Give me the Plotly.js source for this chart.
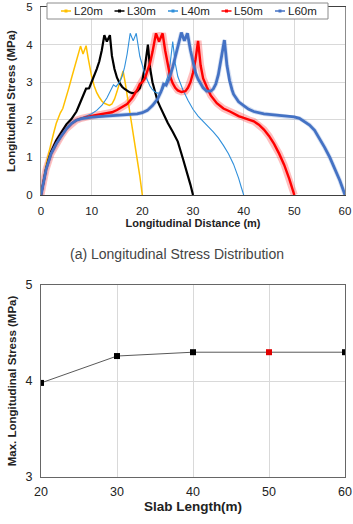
<!DOCTYPE html>
<html>
<head>
<meta charset="utf-8">
<script src="https://cdn.plot.ly/plotly-3.0.1.min.js"></script>
<style>html,body{margin:0;padding:0;background:#fff;}#chart{width:353px;height:524px;}</style>
</head>
<body>
<div id="chart"></div>
<script>
// ---- Top chart: longitudinal stress distribution ----
const seriesNames = ["L20m", "L30m", "L40m", "L50m", "L60m"];

const x20 = [0,0.5,1,1.5,2,2.5,3,3.5,3.8,4.3,5,5.5,6,6.5,7,7.5,7.8,8.3,8.9,9.3,9.7,10,10.5,11,11.5,12,12.5,13,13.5,14,14.5,15,15.5,16,16.2,16.6,17,17.5,18,18.5,19,19.5,20];
const y20 = [0,0.45,0.8,1.1,1.4,1.65,1.9,2.1,2.18,2.3,2.6,2.85,3.1,3.35,3.6,3.85,3.96,3.75,3.97,3.65,3.35,3.15,2.9,2.72,2.6,2.5,2.44,2.4,2.38,2.42,2.55,2.75,3.0,3.22,3.3,3.0,2.65,2.3,1.9,1.45,0.98,0.5,0];

const x30 = [0,0.5,1,1.5,2,3,4,5,6,7,7.5,8,8.5,8.9,9.5,10,10.5,11,11.5,12,12.5,13,13.6,14,14.5,15,15.5,16,16.5,17,17.5,18,18.5,19,19.5,20,20.5,21.1,21.5,22,22.5,23,23.5,24,25,26,27,28,28.5,29,29.5,30];
const y30 = [0,0.38,0.7,0.95,1.15,1.45,1.68,1.88,2.02,2.22,2.38,2.55,2.72,2.83,2.84,3.0,3.15,3.35,3.55,3.85,4.25,4.08,4.25,3.7,3.35,3.12,2.98,2.88,2.82,2.77,2.73,2.71,2.72,2.76,2.84,3.05,3.4,4.0,3.4,3.0,2.75,2.5,2.35,2.2,1.92,1.68,1.42,0.97,0.75,0.52,0.27,0];

const x40 = [0,1,2,3,4,5,6,7,8,9,10,11,12,13,13.8,14.3,14.8,15.5,16,16.5,17,17.6,18.2,18.8,19.5,20,20.5,21,21.5,22,22.5,23,23.5,24,24.5,25,25.5,26,26.5,27,27.5,28,29,30,31,32,33,34,35,36,37,38,38.5,39,39.5,40];
const y40 = [0,0.68,1.1,1.36,1.57,1.76,1.9,1.99,2.05,2.1,2.16,2.25,2.38,2.58,2.8,2.93,2.88,3.0,3.15,3.4,3.75,4.3,4.1,4.3,3.69,3.45,3.22,3.05,2.9,2.8,2.74,2.71,2.72,2.8,2.95,3.15,3.5,4.08,3.5,3.15,2.95,2.8,2.52,2.28,2.1,1.95,1.82,1.68,1.52,1.32,1.1,0.82,0.65,0.45,0.22,0];

const x50 = [0,1,2,3,4,5,6,7,8,9,10,11,12,13,14,15,16,17,18,19,19.5,20,20.5,21,21.5,22,22.7,23.3,24,24.5,25,25.5,26,26.5,27,27.7,28.5,29,29.5,30,30.5,31,31.5,32,32.7,33.5,34.7,36,37.3,38,39,40,41,42,43,44,45,46,47,48,49,50];
const y50 = [0,0.68,1.1,1.36,1.57,1.76,1.9,1.99,2.04,2.08,2.1,2.13,2.15,2.17,2.2,2.26,2.33,2.42,2.58,2.8,2.95,3.0,3.1,3.28,3.5,3.8,4.3,4.08,4.3,3.85,3.45,3.15,2.97,2.85,2.78,2.74,2.76,2.85,3.0,3.25,3.6,4.1,3.45,3.1,2.88,2.65,2.44,2.3,2.22,2.17,2.1,2.05,2.0,1.96,1.87,1.74,1.57,1.36,1.1,0.8,0.43,0];

const x60 = [0,1,2,3,4,5,6,7,8,9,10,12,14,16,18,19,20,21,22,23,23.7,24.2,24.7,25.3,26,26.5,27,27.7,28.3,28.9,29.5,30,30.5,31,31.5,32,32.7,33.5,34,34.5,35,35.5,36.2,36.7,37.2,37.7,38,39,40,41,42,44,46,48,50,51,52,53,54,55,56,57,58,59,60];
const y60 = [0,0.68,1.1,1.36,1.57,1.76,1.9,1.99,2.03,2.06,2.07,2.09,2.11,2.12,2.14,2.16,2.19,2.25,2.38,2.55,2.75,2.95,2.92,3.1,3.4,3.65,3.95,4.32,4.1,4.3,3.85,3.5,3.25,3.08,2.95,2.85,2.76,2.76,2.82,2.95,3.2,3.55,4.12,3.45,3.05,2.8,2.68,2.48,2.37,2.28,2.22,2.16,2.13,2.11,2.08,2.04,1.96,1.86,1.72,1.5,1.26,1.0,0.7,0.38,0];

// ---- Bottom chart: max stress vs slab length ----
const slabLength = [20, 30, 40, 50, 60];
const maxStress = [3.98, 4.26, 4.30, 4.30, 4.30];

// ---- styling ----
const xs = [x20, x30, x40, x50, x60];
const ys = [y20, y30, y40, y50, y60];
const colors = ["#FFC000", "#000000", "#2F8FDB", "#FF0000", "#4472C4"];
const lineW = [1.5, 2.2, 1.1, 2.4, 2.8];
const glow = [null, null, null, "rgba(255,70,70,0.35)", "rgba(68,114,196,0.22)"];
const glowW = [0, 0, 0, 7, 4.5];

const W = 353, H = 524, M = {l: 41, r: 8, t: 7, b: 47};
const pw = W - M.l - M.r, ph = H - M.t - M.b;
const px2x = p => (p - M.l) / pw;
const py2y = p => (H - M.b - p) / ph;

const traces = [];
for (let i = 0; i < 5; i++) {
  if (glow[i]) {
    traces.push({
      x: xs[i], y: ys[i], xaxis: "x", yaxis: "y", mode: "lines",
      line: {color: glow[i], width: glowW[i]}, showlegend: false, hoverinfo: "skip"
    });
  }
}
for (let i = 0; i < 5; i++) {
  traces.push({
    x: xs[i], y: ys[i], xaxis: "x", yaxis: "y", name: seriesNames[i],
    mode: "lines", line: {color: colors[i], width: lineW[i]}, showlegend: false
  });
}
traces.push({
  x: slabLength, y: maxStress, xaxis: "x2", yaxis: "y2", mode: "lines+markers",
  line: {color: "#595959", width: 1},
  marker: {symbol: "square", size: 6, color: ["#000","#000","#000","#E00000","#000"]},
  showlegend: false
});

// ---- legend (drawn as layout decoration) ----
const fontFam = "Liberation Sans, Arial, sans-serif";
const shapes = [{
  type: "rect", xref: "paper", yref: "paper",
  x0: px2x(47), x1: px2x(328), y0: py2y(19), y1: py2y(3),
  line: {color: "#8C8C8C", width: 1}, fillcolor: "#fff", layer: "above"
}];
const annotations = [];
for (let i = 0; i < 5; i++) {
  const cx = 66 + i * 53.5;
  shapes.push({type: "line", xref: "paper", yref: "paper", x0: px2x(cx - 5), x1: px2x(cx + 5),
    y0: py2y(11), y1: py2y(11), line: {color: colors[i], width: 1.5}, layer: "above"});
  shapes.push({type: "rect", xref: "paper", yref: "paper", x0: px2x(cx - 1.5), x1: px2x(cx + 1.5),
    y0: py2y(12.5), y1: py2y(9.5), line: {color: colors[i], width: 0}, fillcolor: colors[i], layer: "above"});
  annotations.push({text: seriesNames[i], xref: "paper", yref: "paper", x: px2x(cx + 5.5), y: py2y(11),
    xanchor: "left", yanchor: "middle", showarrow: false,
    font: {family: fontFam, size: 11.5, color: "#222"}});
}
annotations.push({
  text: "(a) Longitudinal Stress Distribution", xref: "paper", yref: "paper",
  x: px2x(177), y: py2y(254), xanchor: "center", yanchor: "middle", showarrow: false,
  font: {family: fontFam, size: 14, color: "#444"}
});

const axBase = {
  showgrid: true, gridcolor: "#D9D9D9", gridwidth: 1,
  showline: true, linecolor: "#8C8C8C", linewidth: 1, mirror: true,
  zeroline: false, ticks: "", ticklabelstandoff: 5,
  tickfont: {family: fontFam, size: 11.5, color: "#222"}
};

const layout = {
  width: W, height: H, margin: M,
  paper_bgcolor: "#fff", plot_bgcolor: "#fff",
  font: {family: fontFam, color: "#222"},
  showlegend: false,
  xaxis: Object.assign({}, axBase, {
    domain: [0, 1], anchor: "y", range: [0, 60], tickvals: [0,10,20,30,40,50,60],
    linecolor: "#404040",
    title: {text: "<b>Longitudinal Distance (m)</b>", font: {family: fontFam, size: 11, color: "#222"}, standoff: 3}
  }),
  yaxis: Object.assign({}, axBase, {
    domain: [0.6, 1], anchor: "x", range: [0, 5], tickvals: [0,1,2,3,4,5],
    title: {text: "<b>Longitudinal Stress (MPa)</b>", font: {family: fontFam, size: 11.5, color: "#222"}, standoff: 8}
  }),
  xaxis2: Object.assign({}, axBase, {
    domain: [0, 1], anchor: "y2", range: [20, 60], tickvals: [20,30,40,50,60],
    linecolor: "#666", ticklabelstandoff: 3,
    tickfont: {family: fontFam, size: 12.5, color: "#222"},
    title: {text: "<b>Slab Length(m)</b>", font: {family: fontFam, size: 13.5, color: "#222"}, standoff: 1}
  }),
  yaxis2: Object.assign({}, axBase, {
    domain: [0, 0.4085], anchor: "x2", range: [3, 5], tickvals: [3,4,5],
    linecolor: "#666",
    tickfont: {family: fontFam, size: 12.5, color: "#222"},
    title: {text: "<b>Max. Longitudinal Stress (MPa)</b>", font: {family: fontFam, size: 11.5, color: "#222"}, standoff: 6}
  }),
  shapes: shapes,
  annotations: annotations
};

Plotly.newPlot("chart", traces, layout, {displayModeBar: false, staticPlot: true});
</script>
</body>
</html>
